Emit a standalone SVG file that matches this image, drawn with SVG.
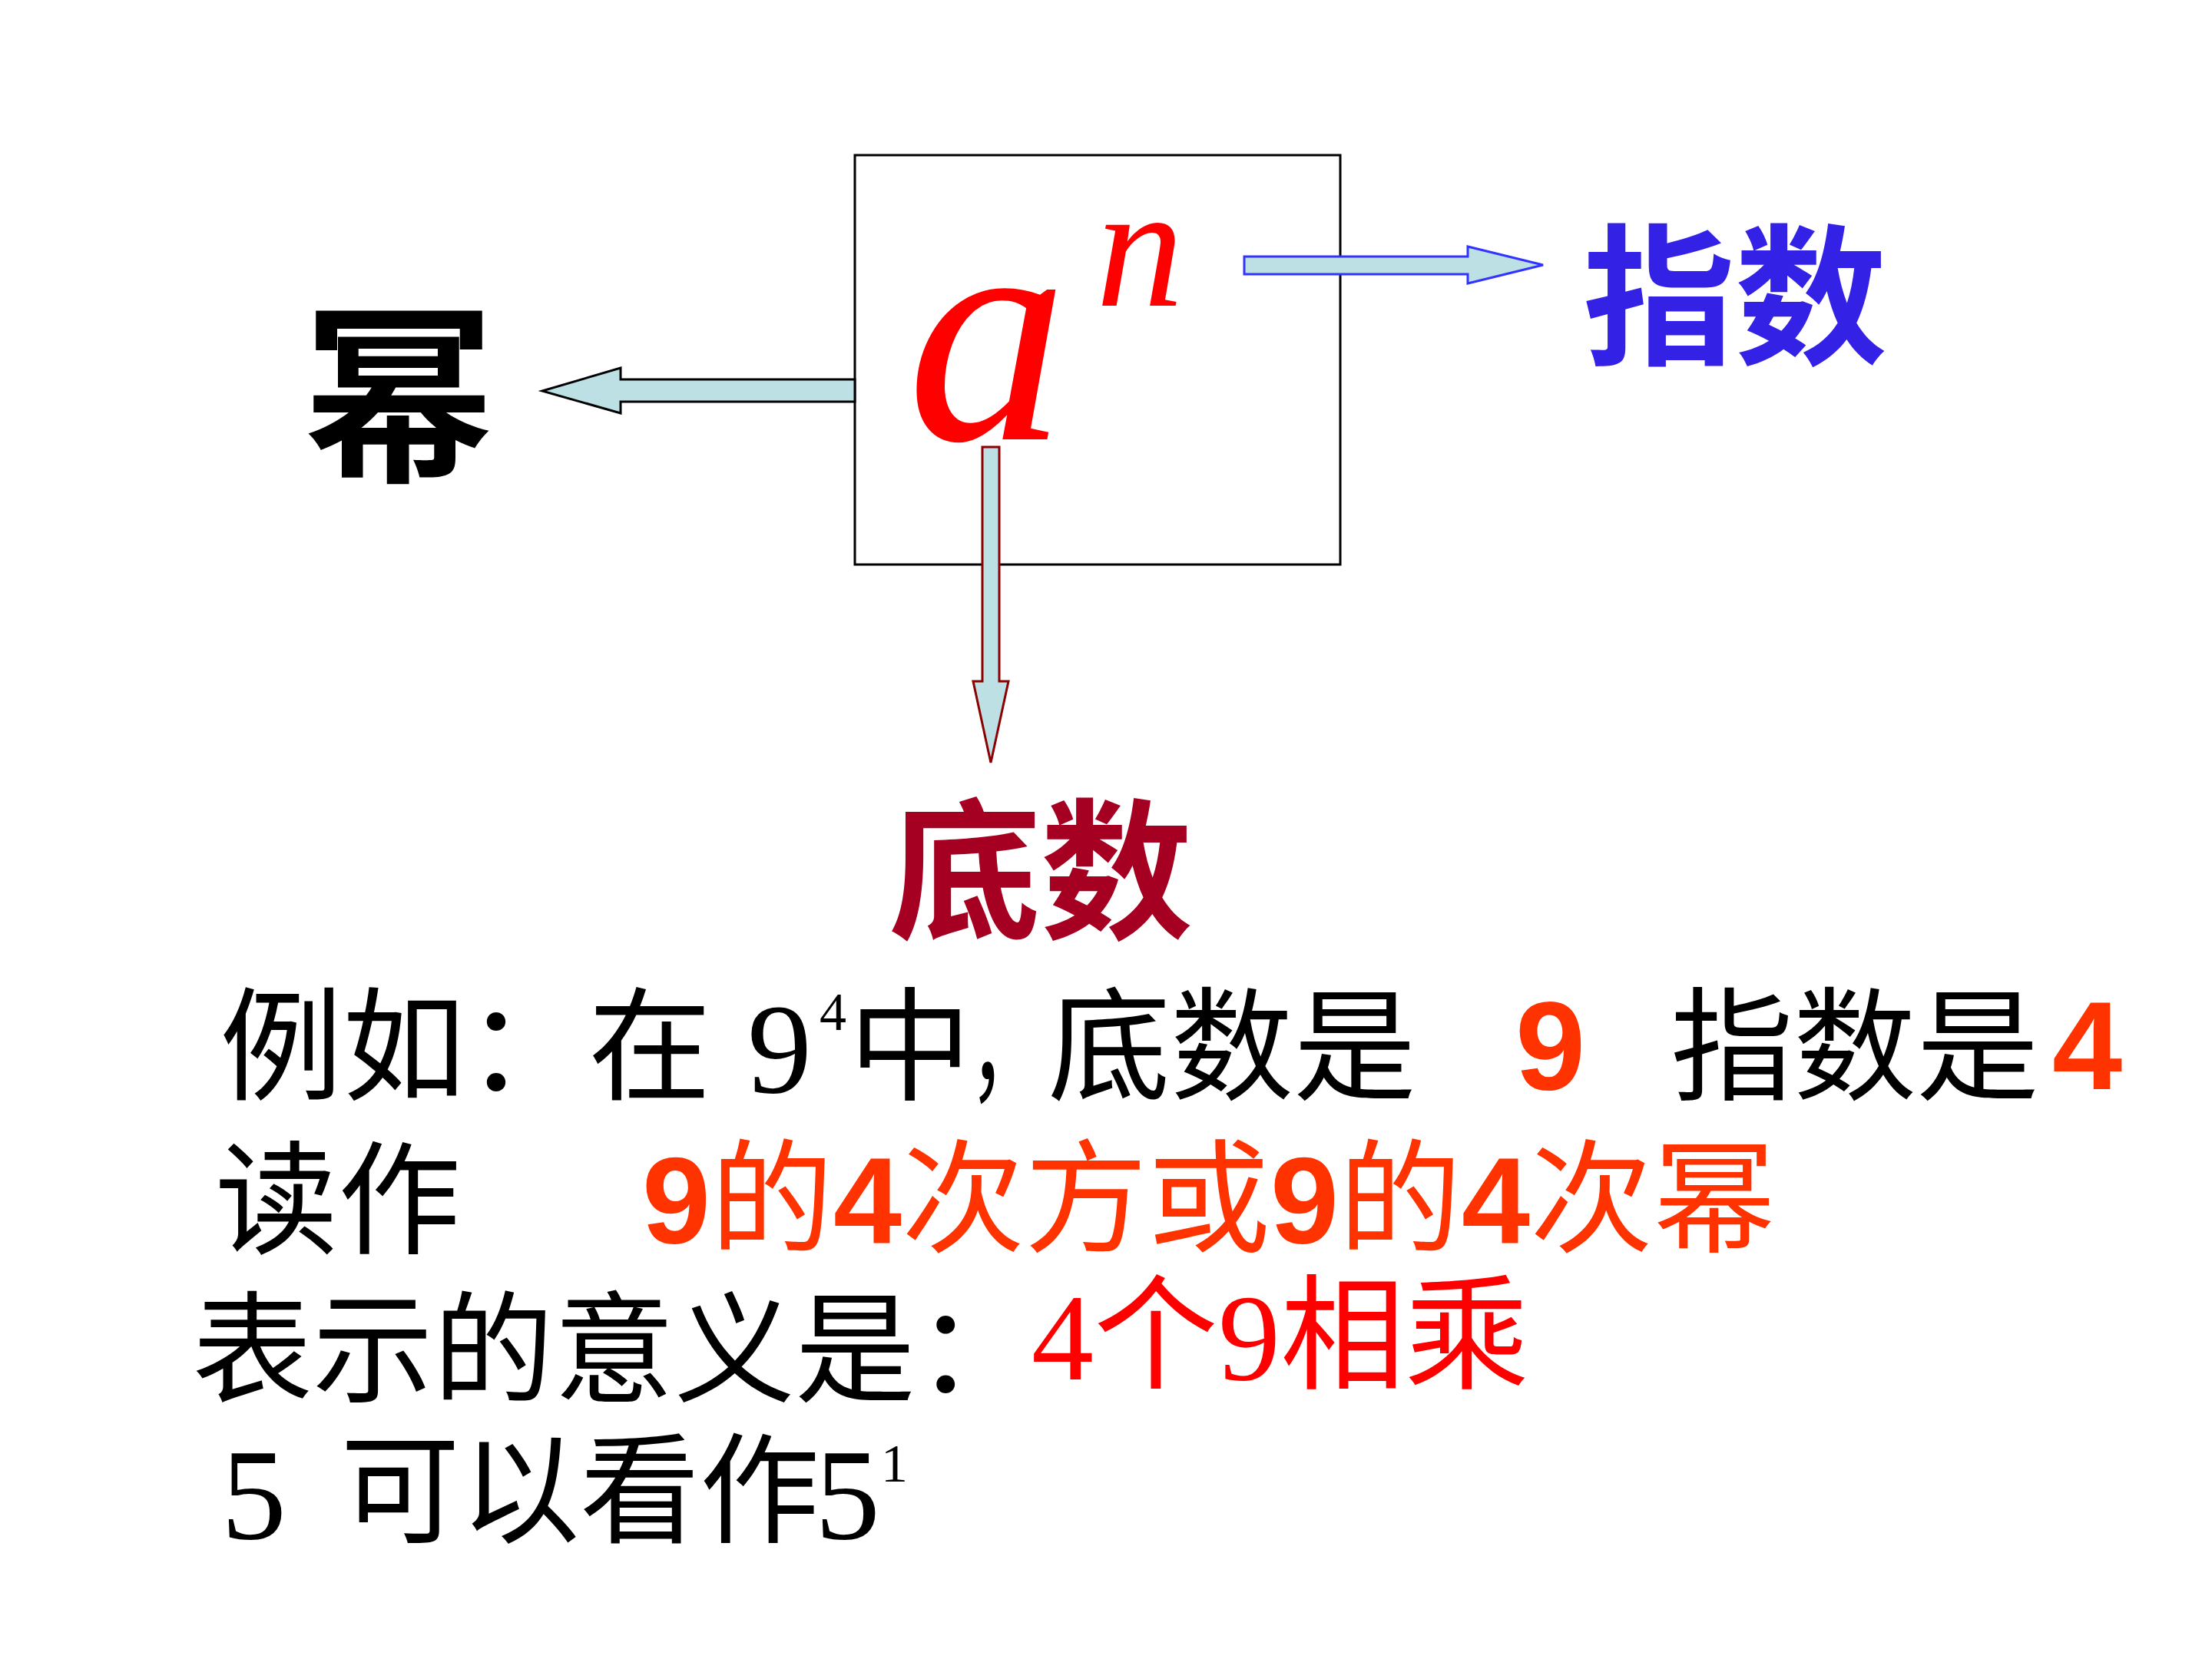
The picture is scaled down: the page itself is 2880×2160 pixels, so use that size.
<svg xmlns="http://www.w3.org/2000/svg" width="2880" height="2160" viewBox="0 0 2880 2160">
<style>
.cjk{font-family:"Noto Sans CJK SC","Liberation Sans",sans-serif;}
.lbl{font-family:"Noto Sans CJK SC",sans-serif;font-weight:bold;}
.ser{font-family:"Liberation Serif","Noto Sans CJK SC",serif;}
.sans{font-family:"Liberation Sans","Noto Sans CJK SC",sans-serif;}
.ital{font-family:"Liberation Serif",serif;font-style:italic;fill:#FF0000;}
.blk{fill:#000000;}
.org{fill:#FF3300;}
.red{fill:#FF0000;}
.arr{fill:#BCE0E4;stroke-width:3;stroke-linejoin:miter;}
</style>
<rect x="0" y="0" width="2880" height="2160" fill="#FFFFFF"/>

<g id="node-power-expr">
  <rect x="1113" y="202" width="632" height="533" fill="#FFFFFF" stroke="#000000" stroke-width="3"/>
  <text class="ital" x="1181" y="572" font-size="418">a</text>
  <text class="ital" x="1427" y="398" font-size="228">n</text>
</g>

<g id="node-mi">
  <text class="lbl blk" x="394" y="608" font-size="250">幂</text>
</g>

<g id="node-zhishu">
  <text class="lbl" x="2061" y="459" font-size="198" fill="#3322E6">指数</text>
</g>

<g id="node-dishu">
  <text class="lbl" x="1157" y="1207" font-size="198" fill="#A50021">底数</text>
</g>

<g id="connectors">
  <polygon class="arr" stroke="#000000" points="1113,494 808,494 808,479 706,509 808,538 808,523 1113,523"/>
  <polygon class="arr" stroke="#3333FF" points="1620,334 1911,334 1911,321 2009,345 1911,369 1911,357 1620,357"/>
  <polygon class="arr" stroke="#8B0000" points="1279,582 1301,582 1301,887 1313,887 1290,993 1267,887 1279,887"/>
</g>

<g id="example-text">
  <text class="cjk blk" x="286" y="1420" font-size="160">例如：在</text>
  <text class="ser blk" x="973" y="1422" font-size="168">9</text>
  <text class="ser blk" x="1067" y="1341" font-size="70">4</text>
  <text class="cjk blk" x="1105" y="1420" font-size="160">中</text>
  <text class="cjk blk" x="1262" y="1420" font-size="160" textLength="98" lengthAdjust="spacingAndGlyphs">，</text>
  <text class="cjk blk" x="1364" y="1420" font-size="160">底数是</text>
  <text class="sans org" x="1973" y="1418" font-size="164" font-weight="bold">9</text>
  <text class="cjk blk" x="2175" y="1420" font-size="160">指数是</text>
  <text class="sans org" x="2672" y="1418" font-size="164" font-weight="bold">4</text>

  <text class="cjk blk" x="280" y="1620" font-size="160">读作</text>
  <text class="sans org" x="836" y="1618" font-size="160"><tspan font-weight="bold">9</tspan>的<tspan font-weight="bold">4</tspan>次方或<tspan font-weight="bold">9</tspan>的<tspan font-weight="bold">4</tspan>次幂</text>

  <text class="cjk blk" x="250" y="1813" font-size="157">表示的意义是：</text>
  <text class="ser red" x="1343" y="1796" font-size="162">4个9相乘</text>

  <text class="ser blk" x="288" y="2003" font-size="170">5</text>
  <text class="cjk blk" x="443" y="1996" font-size="156">可以看作</text>
  <text class="ser blk" x="1061" y="2003" font-size="170">5</text>
  <text class="ser blk" x="1147" y="1929" font-size="70">1</text>
</g>
</svg>
